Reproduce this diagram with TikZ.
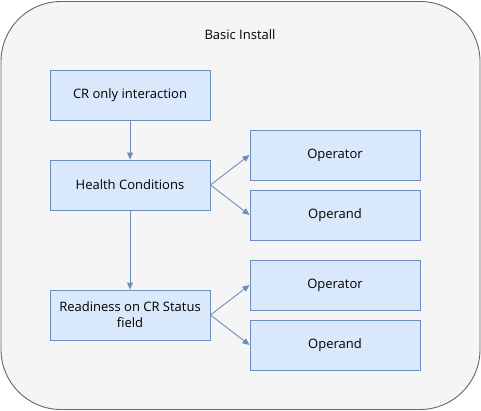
\documentclass[tikz,border=0pt]{standalone}
\usepackage{fontspec}
\setmainfont{Open Sans}
\usetikzlibrary{arrows.meta}
\definecolor{boxfill}{HTML}{DAE8FC}
\definecolor{boxline}{HTML}{6C8EBF}
\definecolor{outerfill}{HTML}{F5F5F5}
\definecolor{outerline}{HTML}{666666}
\begin{document}
\begin{tikzpicture}[x=1pt,y=-1pt,
  bluebox/.style={draw=boxline,fill=boxfill,line width=0.9pt,minimum width=160pt,minimum height=50pt,inner sep=2pt,align=center,font=\fontsize{13}{16}\selectfont,text=black},
  smallbox/.style={bluebox,minimum width=170pt},
  conn/.style={draw=boxline,line width=0.9pt,-{Triangle[length=7pt,width=6pt,fill=boxline]}}]
\useasboundingbox (0,0) rectangle (481,411);
\node[draw=outerline,fill=outerfill,line width=0.9pt,rounded corners=60pt,minimum width=479pt,minimum height=408pt,inner sep=0pt] (outer) at (240.5,205.5) {};
\node[font=\fontsize{13}{16}\selectfont,text=black] (title) at (240,35) {Basic Install};
\node[bluebox] (cr) at (130,95) {CR only interaction};
\node[bluebox] (health) at (130,185) {Health Conditions};
\node[bluebox] (ready) at (130,315) {Readiness on CR Status\\field};
\node[smallbox] (op1) at (335,155) {Operator};
\node[smallbox] (od1) at (335,215) {Operand};
\node[smallbox] (op2) at (335,285) {Operator};
\node[smallbox] (od2) at (335,345) {Operand};
\draw[conn] (cr) -- (health);
\draw[conn] (health) -- (ready);
\draw[conn] (health.east) -- (op1.west);
\draw[conn] (health.east) -- (od1.west);
\draw[conn] (ready.east) -- (op2.west);
\draw[conn] (ready.east) -- (od2.west);
\end{tikzpicture}
\end{document}
